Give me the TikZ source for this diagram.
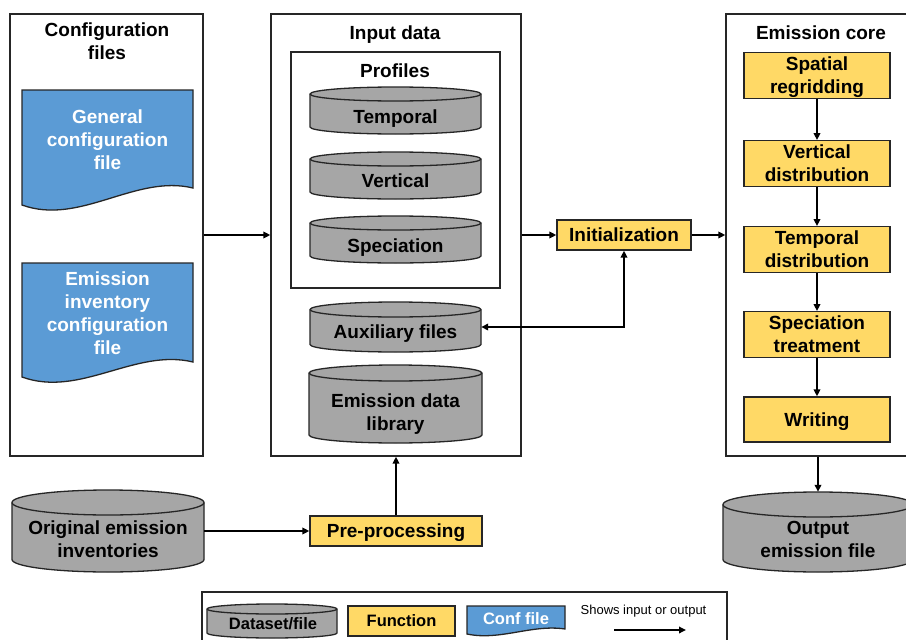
\documentclass[tikz,border=0pt]{standalone}
\usepackage{fontspec}
\setmainfont{Liberation Sans}
\usetikzlibrary{arrows.meta}
\definecolor{cgray}{HTML}{A6A6A6}
\definecolor{cyel}{HTML}{FFD966}
\definecolor{cblue}{HTML}{5B9BD5}
\definecolor{cline}{HTML}{262626}
\newcommand\tp{\rule{0pt}{0.95em}}
\newcommand\bt{\rule[-0.237em]{0pt}{0.237em}}
\tikzset{
  big/.style={font=\fontsize{19}{23}\selectfont\bfseries},
  small/.style={font=\fontsize{16.5}{20}\selectfont\bfseries},
  txt/.style={big,align=center,inner sep=0pt},
  boxsty/.style={draw=cline,line width=1.3pt,inner sep=0pt},
  funsty/.style={draw=cline,line width=1.3pt,fill=cyel,inner sep=0pt,big,align=center},
  cylsty/.style={draw=cline,line width=1.3pt,fill=cgray},
  docsty/.style={draw=cline,line width=1.3pt,fill=cblue},
  arr/.style={draw=black,line width=1.7pt,-{Triangle[length=7pt,width=6.5pt]}},
  arrtwo/.style={draw=black,line width=1.7pt,{Triangle[length=7pt,width=6.5pt]}-{Triangle[length=7pt,width=6.5pt]}},
}
% name, x1, y1, x2, y2, ry, text offset, text
\newcommand\mycyl[8]{%
  \pgfmathsetmacro\cylrx{(#4-#2)/2}%
  \filldraw[cylsty] (#2,#3+#6) -- (#2,#5-#6)
    arc[start angle=180,end angle=360,x radius=\cylrx pt,y radius=#6pt]
    -- (#4,#3+#6)
    arc[start angle=0,end angle=180,x radius=\cylrx pt,y radius=#6pt] -- cycle;
  \draw[cylsty,fill=none] (#2,#3+#6)
    arc[start angle=180,end angle=360,x radius=\cylrx pt,y radius=#6pt];
  \node[inner sep=0pt,minimum width=#4pt-#2pt,minimum height=#5pt-#3pt] (#1) at ({(#2+#4)/2},{(#3+#5)/2}) {};
  \node[txt] at ({(#2+#4)/2},{(#3+#5)/2+#7}) {\tp#8\bt};
}
\begin{document}
\begin{tikzpicture}[x=1pt,y=-1pt]
\fill[white] (0,0) rectangle (906,640);
\useasboundingbox (0,0) rectangle (906,640);

% ---------- Configuration files ----------
\node[boxsty,minimum width=193,minimum height=442] (cfg) at (106.5,235) {};
\node[txt] (cfgt) at (107,41) {\tp Configuration\\files\bt};
\filldraw[docsty] (22,90) -- (193,90) -- (193,188)
  .. controls (135,174) and (80,226) .. (22,205) -- cycle;
\node[txt,text=white] (gen) at (107.5,140) {\tp General\\configuration\\file\bt};
\filldraw[docsty] (22,263) -- (193,263) -- (193,362)
  .. controls (135,348) and (80,398) .. (22,377) -- cycle;
\node[txt,text=white] (einv) at (107.5,313.5) {\tp Emission\\inventory\\configuration\\file\bt};

% ---------- Input data ----------
\node[boxsty,minimum width=250,minimum height=442] (inp) at (396,235) {};
\node[txt] (inpt) at (395,33) {\tp Input data\bt};
\node[boxsty,minimum width=209,minimum height=236] (prof) at (395.5,170) {};
\node[txt] (proft) at (395,71) {\tp Profiles\bt};
\mycyl{temp}{310}{87}{481}{134}{7}{6.5}{Temporal}
\mycyl{vert}{310}{152}{481}{199}{7}{5.5}{Vertical}
\mycyl{spec}{310}{216}{481}{263}{7}{6.5}{Speciation}
\mycyl{aux}{310}{302}{481}{352}{7.5}{5}{Auxiliary files}
\mycyl{edl}{309}{365}{482}{443}{8}{8}{Emission data\\library}

% ---------- Initialization ----------
\node[funsty,minimum width=134,minimum height=30] (init) at (624,235) {\tp Initialization\bt};

% ---------- Emission core ----------
\node[boxsty,minimum width=186,minimum height=442] (core) at (819,235) {};
\node[txt] (coret) at (821,33) {\tp Emission core\bt};
\node[funsty,minimum width=146,minimum height=45] (s1) at (817,75.5) {\tp Spatial\\regridding\bt};
\node[funsty,minimum width=146,minimum height=45] (s2) at (817,163.5) {\tp Vertical\\distribution\bt};
\node[funsty,minimum width=146,minimum height=45] (s3) at (817,249.5) {\tp Temporal\\distribution\bt};
\node[funsty,minimum width=146,minimum height=45] (s4) at (817,334.5) {\tp Speciation\\treatment\bt};
\node[funsty,minimum width=146,minimum height=45] (s5) at (817,419.5) {\tp Writing\bt};

% ---------- bottom row ----------
\mycyl{orig}{12}{490}{204}{572}{12.5}{8.5}{Original emission\\inventories}
\node[funsty,minimum width=172,minimum height=30] (pre) at (396,531) {\tp Pre-processing\bt};
\mycyl{out}{723}{492}{913}{572}{12.5}{7.5}{Output\\emission file}

% ---------- connectors ----------
\draw[arr] (cfg.east) -- (inp.west);
\draw[arr] (init.west -| inp.east) -- (init.west);
\draw[arr] (init.east) -- (init.east -| core.west);
\draw[arrtwo] (aux.east) -| (init.south);
\draw[arr] (s1) -- (s2);
\draw[arr] (s2) -- (s3);
\draw[arr] (s3) -- (s4);
\draw[arr] (s4) -- (s5);
\draw[arr] (out.north |- core.south) -- (out.north);
\draw[arr] (orig.east |- pre.west) -- (pre.west);
\draw[arr] (pre.north) -- (pre.north |- inp.south);

% ---------- legend ----------
\node[boxsty,minimum width=525,minimum height=56] (leg) at (464.5,620) {};
\filldraw[cylsty] (207,609) -- (207,633)
  arc[start angle=180,end angle=360,x radius=65pt,y radius=5pt] -- (337,609)
  arc[start angle=0,end angle=180,x radius=65pt,y radius=5pt] -- cycle;
\draw[cylsty,fill=none] (207,609) arc[start angle=180,end angle=360,x radius=65pt,y radius=5pt];
\node[small,inner sep=0pt] (ldata) at (273,624) {\tp Dataset/file\bt};
\node[draw=cline,line width=1.3pt,fill=cyel,inner sep=0pt,small,minimum width=107,minimum height=30] (lfun) at (401.5,621) {\tp Function\bt};
\filldraw[docsty] (467,606) -- (565,606) -- (565,629)
  .. controls (532,624) and (500,641) .. (467,634) -- cycle;
\node[small,text=white,inner sep=0pt] (lconf) at (516,619) {\tp Conf file\bt};
\node[font=\fontsize{13}{15}\selectfont,inner sep=0pt] (lshow) at (643.5,610) {\tp Shows input or output\bt};
\coordinate (la1) at (614,630);
\coordinate (la2) at (686,630);
\draw[arr] (la1) -- (la2);
\end{tikzpicture}
\end{document}
